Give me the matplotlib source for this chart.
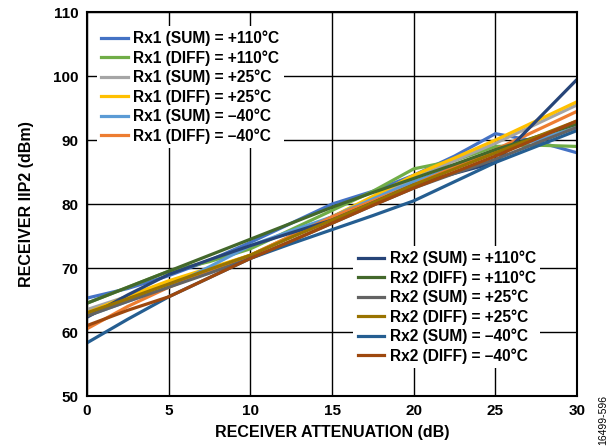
import numpy as np
import matplotlib.pyplot as plt

plt.rcParams['font.family'] = ['Liberation Sans', 'DejaVu Sans']
plt.rcParams['font.weight'] = 'bold'

atten = [0, 2.5, 5, 7.5, 10, 12.5, 15, 17.5, 20, 22.5, 25, 27.5, 30]

rx1_names = ['Rx1 (SUM) = +110°C', 'Rx1 (DIFF) = +110°C', 'Rx1 (SUM) = +25°C',
             'Rx1 (DIFF) = +25°C', 'Rx1 (SUM) = –40°C', 'Rx1 (DIFF) = –40°C']
rx1_colors = ['#4472C4', '#70AD47', '#A5A5A5', '#FFC000', '#5B9BD5', '#ED7D31']
rx1_sum_110 = [65.3, 66.8, 68.8, 71.2, 74.0, 77.0, 80.0, 82.0, 84.5, 87.5, 91.0, 89.8, 88.0]
rx1_diff_110 = [64.5, 67.0, 69.5, 71.0, 73.0, 76.0, 79.0, 82.0, 85.5, 86.8, 89.0, 89.2, 89.0]
rx1_sum_25 = [63.5, 65.6, 67.5, 69.8, 72.0, 75.0, 78.0, 81.0, 84.0, 86.8, 89.5, 92.5, 95.5]
rx1_diff_25 = [63.0, 65.6, 68.0, 70.0, 72.0, 75.0, 78.0, 81.2, 84.5, 87.2, 90.0, 93.0, 96.0]
rx1_sum_m40 = [62.5, 64.8, 67.0, 70.2, 73.5, 75.8, 78.0, 80.8, 83.5, 85.8, 88.0, 90.0, 92.0]
rx1_diff_m40 = [60.5, 64.0, 67.0, 69.5, 72.0, 75.0, 78.0, 80.5, 83.0, 85.8, 88.5, 91.5, 94.5]

rx2_names = ['Rx2 (SUM) = +110°C', 'Rx2 (DIFF) = +110°C', 'Rx2 (SUM) = +25°C',
             'Rx2 (DIFF) = +25°C', 'Rx2 (SUM) = –40°C', 'Rx2 (DIFF) = –40°C']
rx2_colors = ['#264478', '#43682B', '#636363', '#997300', '#255E91', '#9E480E']
rx2_sum_110 = [62.3, 65.8, 69.0, 71.3, 73.5, 75.5, 77.5, 80.2, 83.0, 84.8, 86.5, 93.0, 99.5]
rx2_diff_110 = [64.5, 67.0, 69.5, 72.0, 74.5, 77.0, 79.5, 81.8, 84.0, 86.2, 88.5, 90.5, 92.5]
rx2_sum_25 = [62.5, 64.8, 67.0, 69.2, 71.5, 74.2, 77.0, 79.8, 82.5, 84.8, 87.0, 89.5, 92.0]
rx2_diff_25 = [63.0, 65.2, 67.5, 69.8, 72.0, 74.8, 77.5, 80.2, 83.0, 85.5, 88.0, 90.5, 93.0]
rx2_sum_m40 = [58.3, 62.0, 65.5, 68.5, 71.5, 73.8, 76.0, 78.2, 80.5, 83.5, 86.5, 89.0, 91.5]
rx2_diff_m40 = [61.0, 63.4, 65.5, 68.5, 71.5, 74.2, 77.0, 79.8, 82.5, 85.0, 87.5, 90.2, 93.0]

rx1_data = [rx1_sum_110, rx1_diff_110, rx1_sum_25, rx1_diff_25, rx1_sum_m40, rx1_diff_m40]
rx2_data = [rx2_sum_110, rx2_diff_110, rx2_sum_25, rx2_diff_25, rx2_sum_m40, rx2_diff_m40]

fig = plt.figure(figsize=(6.16, 4.46), dpi=100)
ax = fig.add_axes([0.141, 0.112, 0.796, 0.861])

h1 = []
for vals, c, n in zip(rx1_data, rx1_colors, rx1_names):
    ln, = ax.plot(atten, vals, color=c, lw=2.3, label=n)
    h1.append(ln)
h2 = []
for vals, c, n in zip(rx2_data, rx2_colors, rx2_names):
    ln, = ax.plot(atten, vals, color=c, lw=2.3, label=n)
    h2.append(ln)

ax.set_xlim(0, 30)
ax.set_ylim(50, 110)
ax.set_xticks(range(0, 31, 5))
ax.set_yticks(range(50, 111, 10))
ax.grid(True, color='black', lw=1.0)
ax.set_axisbelow(True)
ax.tick_params(length=0, labelsize=11, pad=6)
for s in ax.spines.values():
    s.set_linewidth(1.5)
ax.set_xlabel('RECEIVER ATTENUATION (dB)', fontsize=11.5, fontweight='bold', labelpad=5)
ax.set_ylabel('RECEIVER IIP2 (dBm)', fontsize=11.5, fontweight='bold', labelpad=14)

leg_kw = dict(frameon=True, fancybox=False, edgecolor='none', framealpha=1,
              fontsize=11.2, handlelength=1.7, handletextpad=0.35,
              labelspacing=0.25, borderpad=0.3, borderaxespad=0)
leg1 = ax.legend(handles=h1, loc='upper left', bbox_to_anchor=(0.02, 0.963), **leg_kw)
ax.add_artist(leg1)
leg2 = ax.legend(handles=h2, loc='lower right', bbox_to_anchor=(0.925, 0.072), **leg_kw)

fig.text(0.980, 0.003, '16499-596', rotation=90, fontsize=7.5, fontweight='normal',
         ha='center', va='bottom')

fig.savefig('out.png', dpi=100)
